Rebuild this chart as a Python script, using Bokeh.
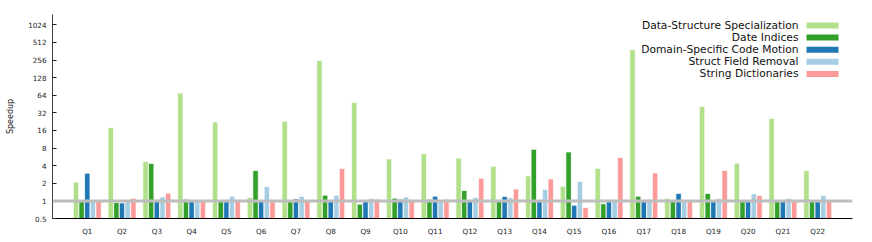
import math
import numpy as np
from bokeh.plotting import figure
from bokeh.models import (Range1d, FixedTicker, CustomJSTickFormatter, Span, Label,
                          BoxAnnotation)
from bokeh.embed import file_html
from bokeh.resources import INLINE

queries = [f"Q{i}" for i in range(1, 23)]
series = ["Data-Structure Specialization", "Date Indices", "Domain-Specific Code Motion",
          "Struct Field Removal", "String Dictionaries"]
colors = ["#b2df8a", "#33a02c", "#1f78b4", "#a6cee3", "#fb9a99"]

data_structure_spec = [2.1, 18, 4.7, 70, 22.3, 1.14, 22.9, 250, 48, 5.2, 6.4,
                       5.4, 3.9, 2.67, 1.78, 3.6, 383, 1.11, 41, 4.4, 25.5, 3.3]
date_indices = [0.97, 0.94, 4.35, 1.07, 1.0, 3.3, 0.97, 1.25, 0.88, 1.11, 1.07,
                1.5, 1.05, 7.6, 6.86, 0.89, 1.2, 0.97, 1.34, 0.98, 0.98, 1.0]
code_motion = [2.97, 0.92, 1.05, 1.0, 1.0, 1.0, 1.08, 1.0, 1.0, 1.07, 1.2,
               1.0, 1.19, 1.0, 0.84, 1.05, 1.0, 1.34, 1.0, 1.0, 1.0, 1.0]
field_removal = [1.0, 0.98, 1.17, 1.0, 1.2, 1.76, 1.2, 1.25, 1.1, 1.16, 1.0,
                 1.14, 1.13, 1.56, 2.14, 1.0, 1.07, 1.0, 1.1, 1.32, 1.1, 1.24]
string_dicts = [0.98, 1.11, 1.35, 1.0, 1.0, 1.0, 1.0, 3.57, 1.07, 1.02, 1.07,
                2.44, 1.6, 2.37, 0.77, 5.5, 3.0, 1.0, 3.3, 1.24, 1.0, 1.0]
all_series = [data_structure_spec, date_indices, code_motion, field_removal, string_dicts]

y_ticks = [0.5, 1, 2, 4, 8, 16, 32, 64, 128, 256, 512, 1024]

W, H = 872, 242
LEFT, RIGHT, TOP, BOTTOM = 52, 20, 14, 24
Y0, Y1 = 0.5, 1535.0
X0, X1 = 0, 23

p = figure(width=W, height=H, output_backend="svg", toolbar_location=None,
           y_axis_type="log", x_range=Range1d(X0, X1), y_range=Range1d(Y0, Y1),
           min_border_left=LEFT, min_border_right=RIGHT, min_border_top=TOP,
           min_border_bottom=BOTTOM)
p.outline_line_color = None
p.xgrid.visible = False
p.ygrid.visible = False
p.background_fill_color = "white"
p.border_fill_color = "white"

xs = np.arange(1, len(queries) + 1)
step = 0.1625
bw = 0.155
for k, (vals, col) in enumerate(zip(all_series, colors)):
    p.vbar(x=xs + (k - 2) * step, top=vals, bottom=Y0, width=bw,
           fill_color=col, line_color="white", line_width=0.7)

p.add_layout(Span(location=1, dimension="width", line_color="#bdbdbd", line_width=3))

# axes
p.xaxis.ticker = FixedTicker(ticks=list(xs))
p.xaxis.major_label_overrides = {int(i): q for i, q in zip(xs, queries)}
p.xaxis.major_tick_line_color = None
p.xaxis.major_tick_in = 0
p.xaxis.major_tick_out = 0
p.xaxis.minor_tick_line_color = None
p.xaxis.axis_line_color = "black"
p.xaxis.major_label_text_font = "DejaVu Sans"
p.xaxis.major_label_text_font_size = "7.2px"
p.xaxis.major_label_text_color = "#222222"
p.xaxis.major_label_standoff = 8

p.yaxis.ticker = FixedTicker(ticks=y_ticks, minor_ticks=[])
p.yaxis.formatter = CustomJSTickFormatter(code="return String(tick);")
p.yaxis.major_tick_in = 4
p.yaxis.major_tick_out = 0
p.yaxis.major_tick_line_color = "#222222"
p.yaxis.minor_tick_line_color = None
p.yaxis.axis_line_color = "#444444"
p.yaxis.major_label_text_font = "DejaVu Sans"
p.yaxis.major_label_text_font_size = "7.2px"
p.yaxis.major_label_text_color = "#222222"
p.yaxis.major_label_standoff = 6
p.yaxis.axis_label = "Speedup"
p.yaxis.axis_label_text_font = "DejaVu Sans"
p.yaxis.axis_label_text_font_style = "normal"
p.yaxis.axis_label_text_font_size = "8px"
p.yaxis.axis_label_text_color = "#222222"
p.yaxis.axis_label_standoff = 10

# legend drawn manually (labels left of swatches), positioned in page pixels
frame_w = W - LEFT - RIGHT
frame_h = H - TOP - BOTTOM


def px_to_x(px):
    return X0 + (px - LEFT) / frame_w * (X1 - X0)


def py_to_y(py):
    frac = (TOP + frame_h - py) / frame_h
    return 10 ** (math.log10(Y0) + frac * (math.log10(Y1) - math.log10(Y0)))


row_y = [25.0, 37.1, 49.2, 61.3, 73.4]
for name, col, ry in zip(series, colors, row_y):
    p.add_layout(Label(x=px_to_x(798), y=py_to_y(ry), text=name,
                       text_align="right", text_baseline="middle",
                       text_font="DejaVu Sans", text_font_size="10.7px",
                       text_color="#111111"))
    p.add_layout(BoxAnnotation(left=px_to_x(806), right=px_to_x(838),
                               bottom=py_to_y(ry + 3), top=py_to_y(ry - 3),
                               fill_color=col, fill_alpha=1.0, line_color=None))

open("out.html", "w").write(file_html(p, INLINE))
